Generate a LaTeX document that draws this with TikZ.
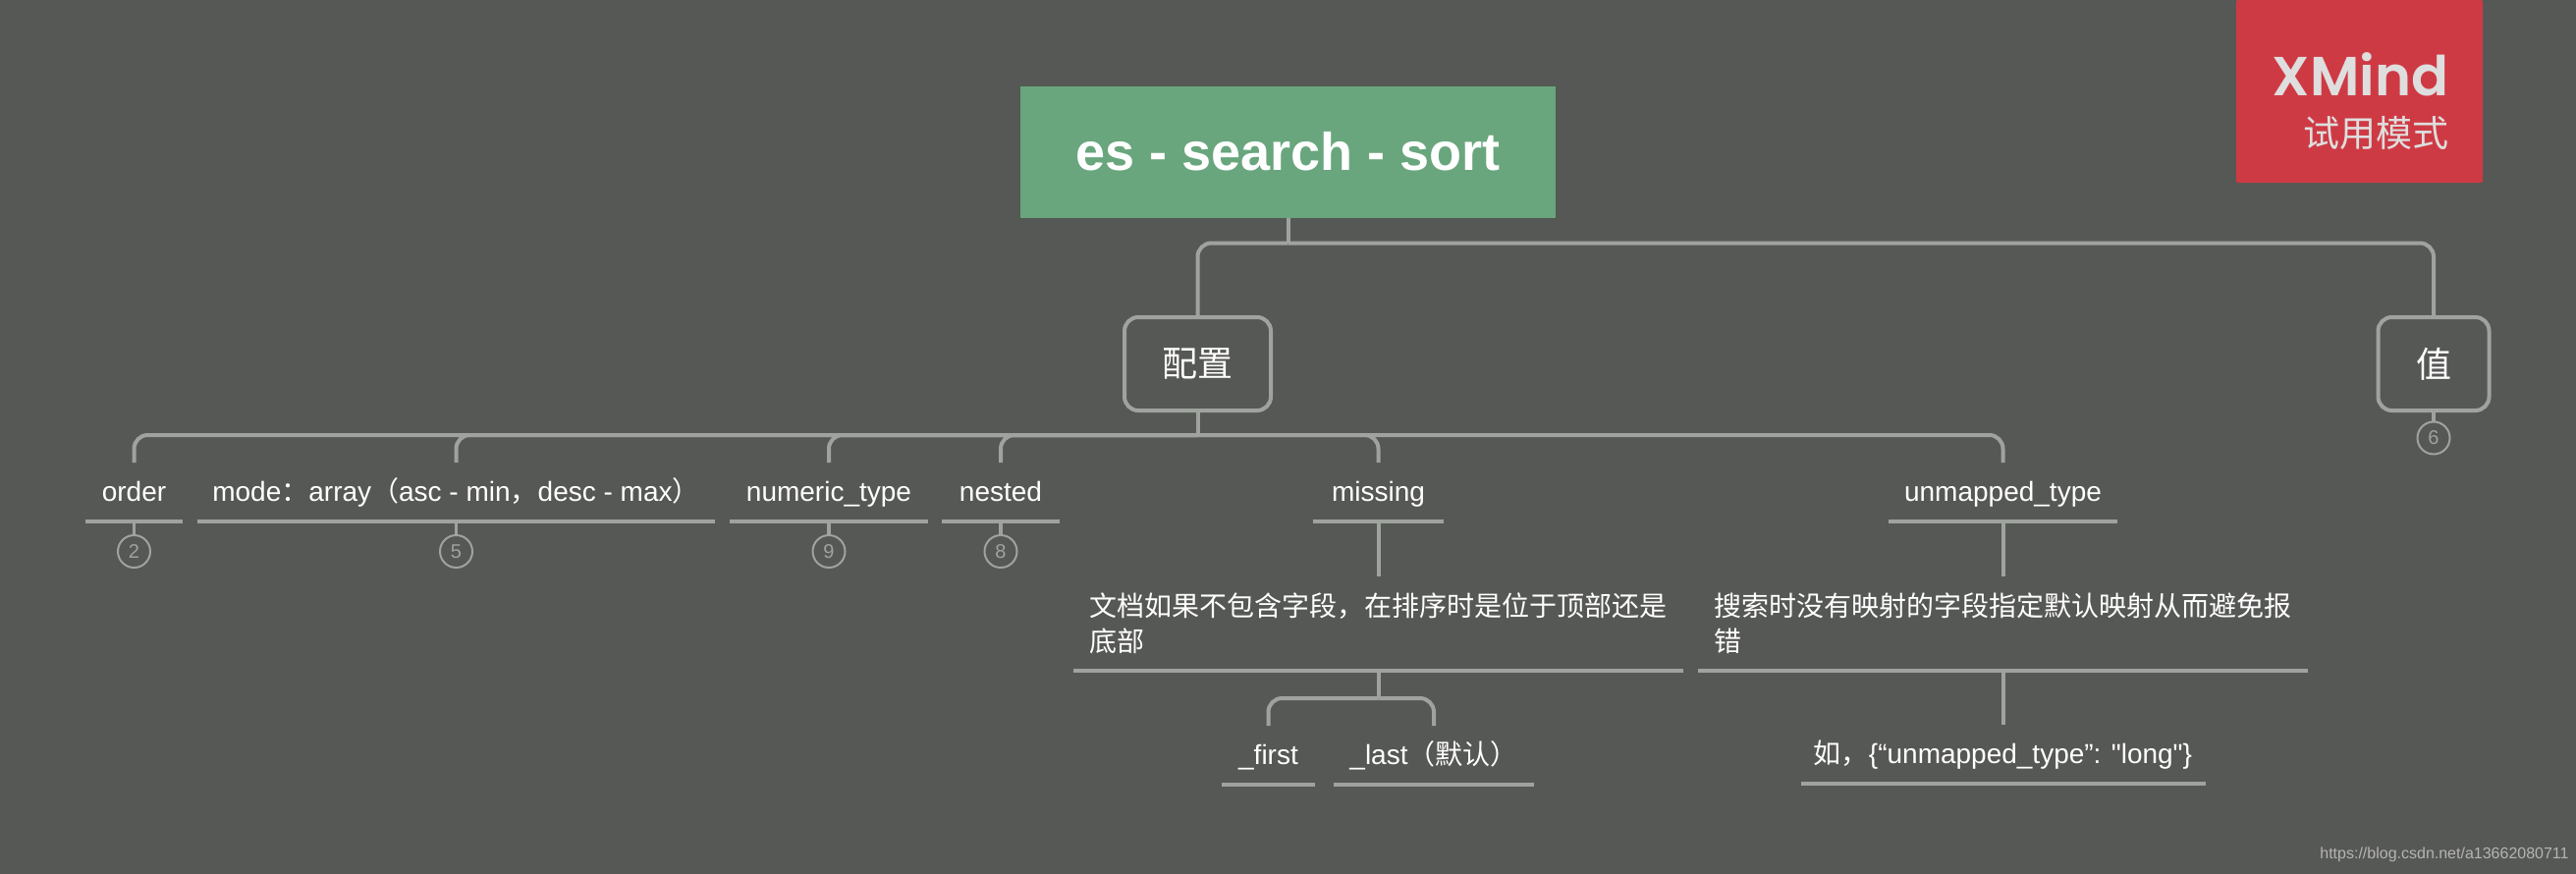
\documentclass[tikz,border=0pt]{standalone}
\usepackage{fontspec}
\setmainfont{Liberation Sans}
\newfontfamily\plain{Liberation Sans}
\newfontfamily\brand{Poppins SemiBold}
\newfontfamily\cjk{Noto Sans CJK SC}
\usetikzlibrary{positioning}
\definecolor{board}{HTML}{565855}
\definecolor{wire}{HTML}{9FA39E}
\definecolor{leaf}{HTML}{69A67D}
\definecolor{stamp}{HTML}{CE3A44}
\definecolor{stampink}{HTML}{DEDEDE}
\definecolor{webmark}{HTML}{B4B4B4}
\tikzset{
  basebox/.style={align=center,text=white,outer sep=0pt},
  rootbox/.style={basebox,fill=leaf,minimum width=272.5pt,minimum height=67pt,font=\fontsize{27}{32}\bfseries\selectfont},
  groupbox/.style={basebox,draw=wire,line width=2pt,rounded corners=7pt,minimum height=47.5pt,font=\fontsize{18}{22}\selectfont\cjk},
  item/.style={basebox,minimum width=#1,minimum height=30pt,inner xsep=0pt,text height=11pt,text depth=2pt,font=\fontsize{14}{18}\selectfont,
    append after command={(\tikzlastnode.south west) edge[underline] (\tikzlastnode.south east)}},
  longitem/.style={item=310.5pt,minimum height=48pt,text width=294.5pt,inner xsep=8pt,text height=,text depth=,align=left},
  underline/.style={draw=wire,line width=2.2pt},
  link/.style={draw=wire,line width=2pt,rounded corners=7pt},
  thinlink/.style={draw=wire,line width=1.8pt},
  countmark/.style={circle,draw=wire,line width=1pt,text=wire,minimum size=16.5pt,inner sep=0pt,outer sep=0pt,font=\fontsize{10}{12}\selectfont}
}
\begin{document}
\begin{tikzpicture}[x=0.5pt,y=-0.5pt]
  \useasboundingbox (0,0) rectangle (2623,889);
  \fill[board] (-6,-6) rectangle (2629,895);
  % trial stamp
  \node[fill=stamp,rounded corners=1pt,minimum width=125.5pt,minimum height=93pt,inner xsep=17.5pt,text width=90.5pt,align=right,text=stampink,font=\fontsize{28}{26.5}\brand\selectfont] (stampbox) at (2402.5,93) {\rule{0pt}{32pt}XMind\\[-0.5pt]{\cjk\fontsize{18.5}{26.5}\selectfont 试用模式}};
  \node[rootbox] (root) at (1311.5,154.5) {es - search - sort};
  \node[groupbox,minimum width=74.5pt] (config) at (1219.5,370.5) {配置};
  \node[groupbox,minimum width=56.5pt] (value) at (2478,370.5) {值};
  \node[countmark,below=5.75pt of value] (nvalue) {6};
  % first row
  \node[item=49.5pt] (order) at (136.5,501) {order};
  \node[item=263.5pt,right=7.5pt of order] (mode) {mode{\cjk：}array{\cjk（}asc - min{\cjk，}desc - max{\cjk）}};
  \node[item=101pt,right=7.5pt of mode] (numeric) {numeric\_type};
  \node[item=60pt,right=7pt of numeric] (nested) {nested};
  \node[item=66.5pt] (missing) at (1403.5,501) {missing};
  \node[item=116.5pt] (unmapped) at (2039.5,501) {unmapped\_type};
  % counters
  \foreach \kid/\num in {order/2,mode/5,numeric/9,nested/8}{
    \node[countmark,below=7pt of \kid] (n\kid) {\num};
    \draw[thinlink] (\kid.south) -- (n\kid.north);
  }
  % details
  \node[longitem,below=28pt of missing] (missingtext) {\cjk 文档如果不包含字段，在排序时是位于顶部还是\\底部};
  \node[longitem,below=28pt of unmapped] (unmappedtext) {\cjk 搜索时没有映射的字段指定默认映射从而避免报\\错};
  \node[item=47.5pt] (first) at (1291.5,769) {\_first};
  \node[item=102pt,right=9.5pt of first] (last) {\_last{\cjk（默认）}};
  \node[item=206pt,below=27.5pt of unmappedtext] (sample) {{\cjk 如，}\{“unmapped\_type”: {\plain "long"}\}};
  \node[anchor=east,inner sep=0pt,text=webmark,font=\fontsize{8}{10}\selectfont] (weburl) at (2616,870) {https://blog.csdn.net/a13662080711};
  % connectors
  \coordinate[below=13pt of root] (rootbus);
  \coordinate[below=12.5pt of config] (configbus);
  \coordinate[below=14pt of missingtext] (missingbus);
  \draw[link] (root.south) -- (rootbus);
  \draw[link] (rootbus) -| (config.north);
  \draw[link] (rootbus) -| (value.north);
  \draw[thinlink] (value.south) -- (nvalue.north);
  \draw[link] (config.south) -- (configbus);
  \foreach \kid in {order,mode,numeric,nested,missing,unmapped}
    \draw[link] (configbus) -| (\kid.north);
  \draw[link] (missing.south) -- (missingtext.north);
  \draw[link] (unmapped.south) -- (unmappedtext.north);
  \draw[link] (missingtext.south) -- (missingbus);
  \draw[link] (missingbus) -| (first.north);
  \draw[link] (missingbus) -| (last.north);
  \draw[link] (unmappedtext.south) -- (sample.north);
\end{tikzpicture}
\end{document}
